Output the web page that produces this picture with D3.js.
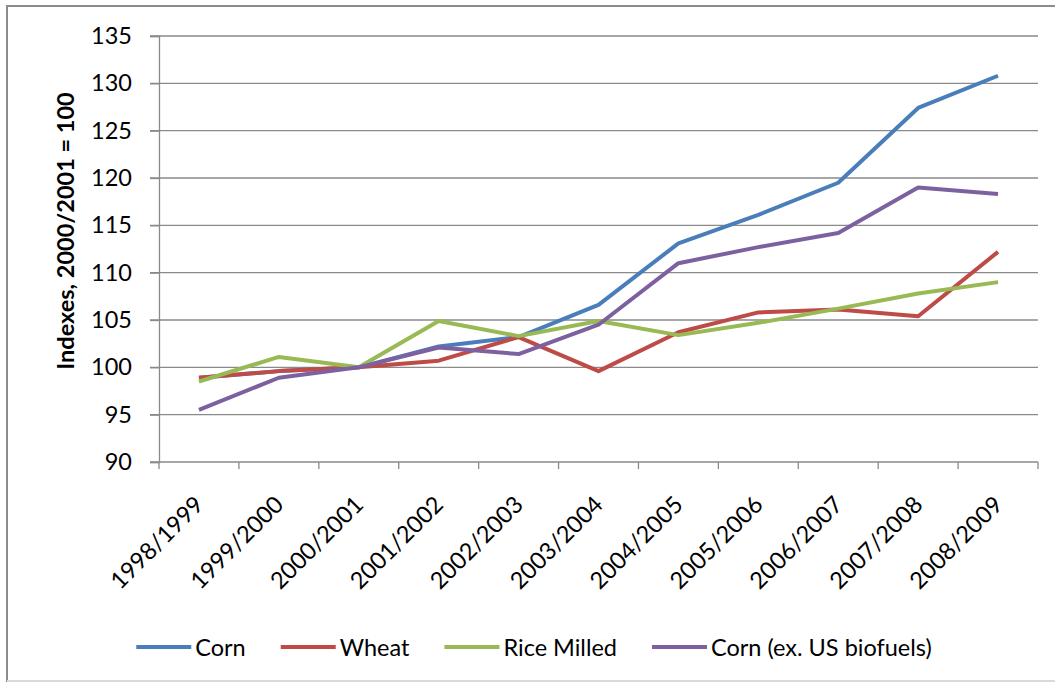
<!DOCTYPE html>
<html>
<head>
<meta charset="utf-8">
<script src="https://cdn.jsdelivr.net/npm/d3@7"></script>
<style>
  body { margin: 0; background: #fff; }
  svg { display: block; font-family: Lato, "Open Sans", sans-serif; }
</style>
</head>
<body>
<div id="chart-container"></div>
<script>
const width = 1055;
const height = 683;

// data
const categories = ["1998/1999", "1999/2000", "2000/2001", "2001/2002", "2002/2003", "2003/2004",
  "2004/2005", "2005/2006", "2006/2007", "2007/2008", "2008/2009"];
const corn = [98.9, 99.6, 100, 102.2, 103.2, 106.6, 113.1, 116.1, 119.5, 127.4, 130.8];
const wheat = [98.9, 99.6, 100, 100.7, 103.2, 99.6, 103.7, 105.8, 106.1, 105.4, 112.2];
const rice = [98.5, 101.1, 100, 104.9, 103.3, 104.9, 103.4, 104.7, 106.2, 107.8, 109.0];
const cornExBiofuels = [95.5, 98.9, 100, 102.1, 101.4, 104.5, 111.0, 112.7, 114.2, 119.0, 118.3];
const yTicks = [90, 95, 100, 105, 110, 115, 120, 125, 130, 135];

const seriesNames = ["Corn", "Wheat", "Rice Milled", "Corn (ex. US biofuels)"];
const seriesValues = [corn, wheat, rice, cornExBiofuels];
const colors = ["#4a7ebb", "#be4b48", "#98b954", "#7d60a0"];

const svg = d3.select("div#chart-container").append("svg")
    .attr("width", width)
    .attr("height", height);

// chart frame
svg.append("rect")
    .attr("x", 7).attr("y", 6)
    .attr("width", width + 10).attr("height", 675)
    .attr("fill", "#fff")
    .attr("stroke", "#8c8c8c")
    .attr("stroke-width", 2);
svg.append("line")
    .attr("x1", 7).attr("x2", width).attr("y1", 681).attr("y2", 681)
    .attr("stroke", "#d9d9d9").attr("stroke-width", 2);

const plotLeft = 159, plotRight = 1038, plotTop = 36, plotBottom = 462;

const xScale = d3.scaleBand().domain(categories).range([plotLeft, plotRight]);
const yScale = d3.scaleLinear().domain([90, 135]).range([plotBottom, plotTop]);

// gridlines
svg.append("g")
    .attr("class", "grid")
    .selectAll("line")
    .data(yTicks.filter(d => d > 90))
    .enter()
    .append("line")
    .attr("x1", 150).attr("x2", plotRight)
    .attr("y1", d => yScale(d)).attr("y2", d => yScale(d))
    .attr("stroke", "#8a8a8a").attr("stroke-width", 1.3);

// y axis
const yaxis = d3.axisLeft(yScale).tickValues(yTicks).tickSize(9).tickPadding(18);
const yg = svg.append("g")
    .attr("transform", "translate(" + plotLeft + ",0)")
    .call(yaxis);
yg.select(".domain").attr("stroke", "#8a8a8a").attr("stroke-width", 1.3);
yg.selectAll(".tick line").attr("stroke", "#8a8a8a").attr("stroke-width", 1.3);
yg.selectAll(".tick text")
    .attr("font-size", 23.5).attr("fill", "#000")
    .attr("font-family", "Lato, sans-serif");

// x axis (ticks between categories)
const xg = svg.append("g").attr("transform", "translate(0," + plotBottom + ")");
xg.append("line")
    .attr("x1", 150).attr("x2", plotRight)
    .attr("stroke", "#8a8a8a").attr("stroke-width", 1.3);
xg.selectAll(".xtick")
    .data(categories.map(c => xScale(c)).concat([plotRight]))
    .enter()
    .append("line")
    .attr("class", "xtick")
    .attr("x1", d => d).attr("x2", d => d)
    .attr("y1", 0).attr("y2", 7)
    .attr("stroke", "#8a8a8a").attr("stroke-width", 1.3);
xg.selectAll(".xlabel")
    .data(categories)
    .enter()
    .append("text")
    .attr("class", "xlabel")
    .attr("text-anchor", "end")
    .attr("font-size", 23.5)
    .attr("fill", "#000")
    .attr("transform", d => "translate(" + (xScale(d) + xScale.bandwidth() / 2 + 6) + ",44) rotate(-45)")
    .text(d => d);

// y axis title
svg.append("text")
    .attr("transform", "translate(74,231) rotate(-90)")
    .attr("text-anchor", "middle")
    .attr("font-size", 23.5)
    .attr("font-weight", "bold")
    .attr("fill", "#000")
    .text("Indexes, 2000/2001 = 100");

// lines
const line = d3.line()
    .x((d, i) => xScale(categories[i]) + xScale.bandwidth() / 2)
    .y(d => yScale(d));

svg.append("g")
    .attr("class", "lines")
    .selectAll("path")
    .data(seriesValues)
    .enter()
    .append("path")
    .attr("d", d => line(d))
    .attr("fill", "none")
    .attr("stroke", (d, i) => colors[i])
    .attr("stroke-width", 4)
    .attr("stroke-linejoin", "round");

// legend
const legend = svg.append("g").attr("class", "legend");
let lx = 0;
seriesNames.forEach(function (name, i) {
    const item = legend.append("g").attr("transform", "translate(" + lx + ",0)");
    item.append("line")
        .attr("x1", 0).attr("x2", 55).attr("y1", 0).attr("y2", 0)
        .attr("stroke", colors[i]).attr("stroke-width", 4);
    const t = item.append("text")
        .attr("x", 59).attr("y", 8.5)
        .attr("font-size", 23.5).attr("fill", "#000")
        .text(name);
    lx += 59 + t.node().getComputedTextLength() + 35;
});
const legendWidth = lx - 35;
legend.attr("transform", "translate(" + (534 - legendWidth / 2) + ",647)");
</script>
</body>
</html>
